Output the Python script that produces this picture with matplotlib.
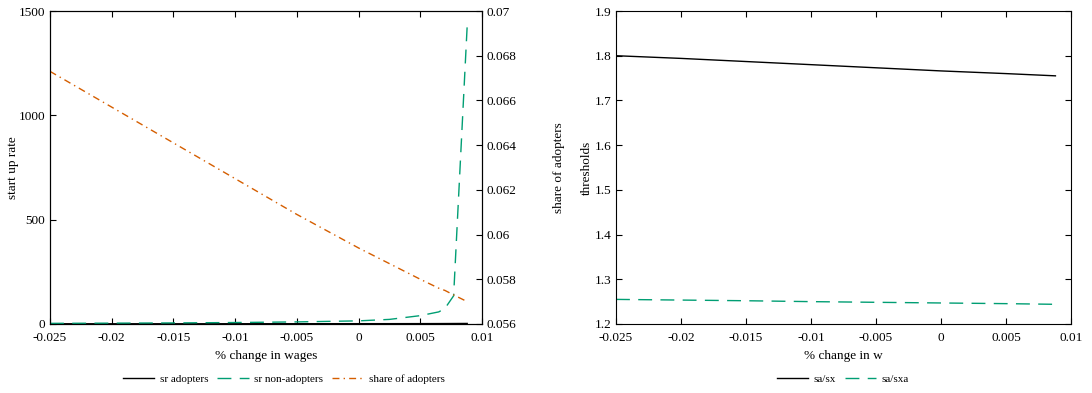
import numpy as np
import matplotlib
matplotlib.use("Agg")
import matplotlib.pyplot as plt

plt.rcParams['font.family'] = ['Liberation Serif', 'DejaVu Serif']
plt.rcParams['font.size'] = 9.5

# values
wage_change = [-0.025, -0.02, -0.015, -0.01, -0.005, 0.0, 0.0025, 0.005, 0.0065, 0.007, 0.0077, 0.0088]
sr_adopters = [1.0, 1.0, 1.0, 1.2, 1.3, 1.5, 1.6, 1.8, 2.0, 2.1, 2.3, 2.6]
sr_non_adopters = [3, 4, 5, 7, 10, 15, 22, 40, 58, 75, 135, 1430]
share_adopters = [0.0673, 0.0657, 0.0641, 0.0625, 0.0609, 0.0594, 0.0587, 0.0580, 0.0576, 0.0575, 0.0573, 0.0570]

w_change = [-0.025, -0.02, -0.015, -0.01, -0.005, 0.0, 0.005, 0.0088]
sa_sx = [1.800, 1.794, 1.787, 1.780, 1.773, 1.766, 1.760, 1.755]
sa_sxa = [1.255, 1.2535, 1.252, 1.250, 1.2485, 1.247, 1.2455, 1.244]

green = '#009E73'
orange = '#D55E00'
xticks = [-0.025, -0.02, -0.015, -0.01, -0.005, 0, 0.005, 0.01]
xlabels = ['-0.025', '-0.02', '-0.015', '-0.01', '-0.005', '0', '0.005', '0.01']
share_ticks = [0.056, 0.058, 0.06, 0.062, 0.064, 0.066, 0.068, 0.07]
thr_ticks = [1.2, 1.3, 1.4, 1.5, 1.6, 1.7, 1.8, 1.9]

fig = plt.figure(figsize=(10.92, 3.93), dpi=100)

# left panel
ax1 = fig.add_axes([0.0458, 0.1756, 0.3956, 0.7964])
l1, = ax1.plot(wage_change, sr_adopters, color='black', lw=1.0)
l2, = ax1.plot(wage_change, sr_non_adopters, color=green, lw=1.0, dashes=(10, 6))
ax1.set_xlim(-0.025, 0.01)
ax1.set_ylim(0, 1500)
ax1.set_xticks(xticks)
ax1.set_xticklabels(xlabels)
ax1.set_yticks([0, 500, 1000, 1500])
ax1.tick_params(direction='in', top=True, right=False, length=4, width=0.8)
ax1.tick_params(axis='x', pad=6)
ax1.set_xlabel('% change in wages', labelpad=4)
ax1.set_ylabel('start up rate', labelpad=0)

ax2 = ax1.twinx()
l3, = ax2.plot(wage_change, share_adopters, color=orange, lw=1.0, dashes=(5, 3, 1, 3))
ax2.set_ylim(0.056, 0.07)
ax2.set_yticks(share_ticks)
ax2.set_yticklabels(['%g' % v for v in share_ticks])
ax2.tick_params(direction='in', length=4, width=0.8)
ax2.set_ylabel('share of adopters', labelpad=26)

fig.legend([l1, l2, l3], ['sr adopters', 'sr non-adopters', 'share of adopters'],
           loc='center', bbox_to_anchor=(0.26, 0.035), ncol=3, frameon=False,
           fontsize=8, handlelength=2.8, columnspacing=0.8, handletextpad=0.5)

# right panel
ax3 = fig.add_axes([0.5641, 0.1756, 0.4167, 0.7964])
m1, = ax3.plot(w_change, sa_sx, color='black', lw=1.0)
m2, = ax3.plot(w_change, sa_sxa, color=green, lw=1.0, dashes=(10, 6))
ax3.set_xlim(-0.025, 0.01)
ax3.set_ylim(1.2, 1.9)
ax3.set_xticks(xticks)
ax3.set_xticklabels(xlabels)
ax3.set_yticks(thr_ticks)
ax3.set_yticklabels(['%.1f' % v for v in thr_ticks])
ax3.tick_params(direction='in', top=True, right=True, length=4, width=0.8)
ax3.tick_params(axis='x', pad=6)
ax3.set_xlabel('% change in w', labelpad=4)
ax3.set_ylabel('thresholds', labelpad=1)

fig.legend([m1, m2], ['sa/sx', 'sa/sxa'],
           loc='center', bbox_to_anchor=(0.772, 0.035), ncol=2, frameon=False,
           fontsize=8, handlelength=2.8, columnspacing=0.8, handletextpad=0.5)

fig.savefig('out.png', dpi=100)
